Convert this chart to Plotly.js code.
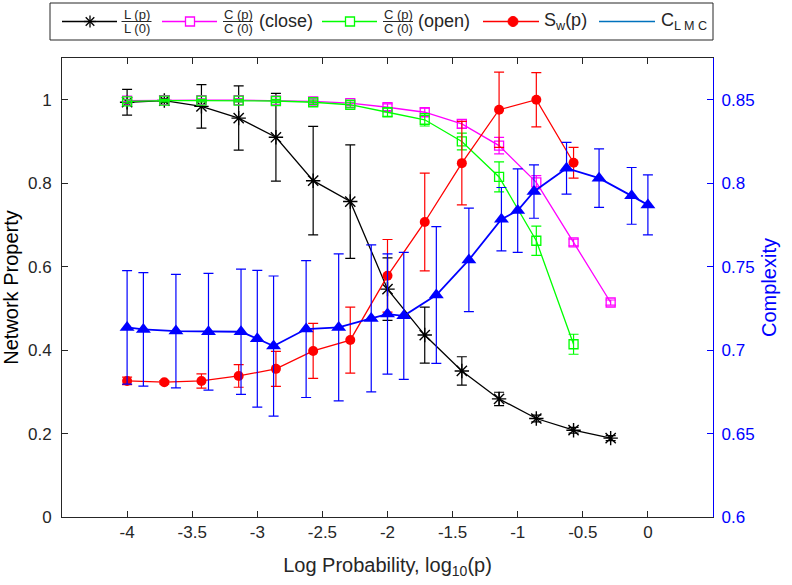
<!DOCTYPE html>
<html>
<head>
<meta charset="utf-8">
<script src="https://cdn.plot.ly/plotly-3.0.1.min.js"></script>
<style>html,body{margin:0;padding:0;background:#fff;}#chart{width:792px;height:585px;}</style>
</head>
<body>
<div id="chart"></div>
<script>
// ---- data ----
const logP = [-4, -3.714, -3.429, -3.143, -2.857, -2.571, -2.286, -2, -1.714, -1.429, -1.143, -0.857, -0.571, -0.286];
const pathLen = [0.994, 0.998, 0.984, 0.956, 0.910, 0.806, 0.756, 0.546, 0.436, 0.350, 0.283, 0.236, 0.208, 0.189];
const pathLenErr = [0.031, 0.004, 0.052, 0.077, 0.105, 0.130, 0.136, 0.075, 0.067, 0.034, 0.016, 0.008, 0.007, 0.006];
const clustClose = [0.998, 0.999, 0.999, 0.999, 0.998, 0.996, 0.992, 0.982, 0.970, 0.942, 0.890, 0.802, 0.658, 0.514];
const clustCloseErr = [0.003, 0.002, 0.003, 0.004, 0.010, 0.006, 0.006, 0.008, 0.010, 0.010, 0.020, 0.016, 0.008, 0.006];
const logPOpen = [-4, -3.714, -3.429, -3.143, -2.857, -2.571, -2.286, -2, -1.714, -1.429, -1.143, -0.857, -0.571];
const clustOpen = [0.996, 0.998, 0.998, 0.998, 0.997, 0.994, 0.988, 0.970, 0.952, 0.900, 0.815, 0.662, 0.414];
const clustOpenErr = [0.004, 0.003, 0.003, 0.003, 0.004, 0.005, 0.006, 0.010, 0.015, 0.020, 0.036, 0.035, 0.024];
const smallWorld = [0.326, 0.323, 0.326, 0.338, 0.355, 0.398, 0.424, 0.578, 0.707, 0.848, 0.976, 1.000, 0.849];
const smallWorldErr = [0.009, 0.004, 0.017, 0.027, 0.042, 0.066, 0.079, 0.087, 0.117, 0.100, 0.090, 0.065, 0.037];
const logPLmc = [-4, -3.875, -3.625, -3.375, -3.125, -3, -2.875, -2.625, -2.375, -2.125, -2, -1.875, -1.625, -1.375, -1.125, -1, -0.875, -0.625, -0.375, -0.125, 0];
const cLmc = [0.7136, 0.7124, 0.7114, 0.7110, 0.7110, 0.7068, 0.7024, 0.7126, 0.7136, 0.7190, 0.7216, 0.7205, 0.7330, 0.7540, 0.7784, 0.7836, 0.7950, 0.8090, 0.8030, 0.7924, 0.7870];
const cLmcErr = [0.034, 0.034, 0.034, 0.035, 0.0375, 0.041, 0.042, 0.041, 0.044, 0.044, 0.036, 0.038, 0.041, 0.031, 0.019, 0.025, 0.016, 0.0155, 0.0175, 0.017, 0.018];
const xTickVals = [-4, -3.5, -3, -2.5, -2, -1.5, -1, -0.5, 0];
const xTickText = ['-4', '-3.5', '-3', '-2.5', '-2', '-1.5', '-1', '-0.5', '0'];
const yTickVals = [0, 0.2, 0.4, 0.6, 0.8, 1];
const yTickText = ['0', '0.2', '0.4', '0.6', '0.8', '1'];
const y2TickVals = [0.6, 0.65, 0.7, 0.75, 0.8, 0.85];
const y2TickText = ['0.6', '0.65', '0.7', '0.75', '0.8', '0.85'];

// ---- layout geometry ----
const W = 792, H = 585, ML = 62, MR = 79, MT = 58, MB = 68;
const PW = W - ML - MR, PH = H - MT - MB;
const px = x => (x - ML) / PW;
const py = y => (H - MB - y) / PH;
const FONT = 'Liberation Sans, Arial, Helvetica, sans-serif';
const AX = '#262626';
const BLUE = '#0000ff';

function eb(arr, color) {
  return {type: 'data', array: arr, visible: true, color: color, thickness: 1.2, width: 5};
}

const traces = [
  {x: logP, y: pathLen, error_y: eb(pathLenErr, '#000'), mode: 'lines+markers', type: 'scatter',
   line: {color: '#000', width: 1.3}, marker: {symbol: 'asterisk-open', size: 12, color: '#000', line: {width: 1.4, color: '#000'}}, showlegend: false},
  {x: logP, y: clustClose, error_y: eb(clustCloseErr, '#ff00ff'), mode: 'lines+markers', type: 'scatter',
   line: {color: '#ff00ff', width: 1.3}, marker: {symbol: 'square-open', size: 9, color: '#ff00ff', line: {width: 1.3, color: '#ff00ff'}}, showlegend: false},
  {x: logPOpen, y: clustOpen, error_y: eb(clustOpenErr, '#00ff00'), mode: 'lines+markers', type: 'scatter',
   line: {color: '#00ff00', width: 1.3}, marker: {symbol: 'square-open', size: 9, color: '#00ff00', line: {width: 1.3, color: '#00ff00'}}, showlegend: false},
  {x: logPOpen, y: smallWorld, error_y: eb(smallWorldErr, '#ff0000'), mode: 'lines+markers', type: 'scatter',
   line: {color: '#ff0000', width: 1.3}, marker: {symbol: 'circle', size: 10, color: '#ff0000'}, showlegend: false},
  {x: logPLmc, y: cLmc, yaxis: 'y2', error_y: eb(cLmcErr, BLUE), mode: 'lines+markers', type: 'scatter',
   line: {color: BLUE, width: 1.8}, marker: {symbol: 'triangle-up', size: 13, color: BLUE}, showlegend: false}
];

// ---- manual legend (box, samples, fraction labels) ----
const LY = 21.5;
const shapes = [];
const annotations = [];
shapes.push({type: 'rect', xref: 'paper', yref: 'paper', x0: px(50), x1: px(713), y0: py(40), y1: py(3),
  line: {color: AX, width: 1}, fillcolor: '#fff', layer: 'above'});
function lseg(x0, x1, y0, y1, color, w) {
  shapes.push({type: 'line', xref: 'paper', yref: 'paper', x0: px(x0), x1: px(x1), y0: py(y0), y1: py(y1),
    line: {color: color, width: w || 1.3}, layer: 'above'});
}
// sample lines
lseg(62, 117, LY, LY, '#000');
lseg(162, 217, LY, LY, '#ff00ff');
lseg(322, 377, LY, LY, '#00ff00');
lseg(483, 539, LY, LY, '#ff0000');
lseg(599, 655, LY, LY, '#0072BD', 1.5);
// asterisk
const ar = 6, ad = 4.3;
lseg(90 - ar, 90 + ar, LY, LY, '#000');
lseg(90, 90, LY - ar, LY + ar, '#000');
lseg(90 - ad, 90 + ad, LY - ad, LY + ad, '#000');
lseg(90 - ad, 90 + ad, LY + ad, LY - ad, '#000');
// squares
[[190, '#ff00ff'], [350, '#00ff00']].forEach(([cx, c]) => {
  shapes.push({type: 'rect', xref: 'paper', yref: 'paper', x0: px(cx - 4.5), x1: px(cx + 4.5), y0: py(LY + 4.5), y1: py(LY - 4.5),
    line: {color: c, width: 1.3}, fillcolor: '#fff', layer: 'above'});
});
// circle
shapes.push({type: 'circle', xref: 'paper', yref: 'paper', x0: px(513 - 5), x1: px(513 + 5), y0: py(LY + 5), y1: py(LY - 5),
  line: {color: '#ff0000', width: 1}, fillcolor: '#ff0000', layer: 'above'});
// fractions
function frac(cx, num, den) {
  lseg(cx - 15, cx + 15, LY, LY, AX, 1);
  annotations.push({xref: 'paper', yref: 'paper', x: px(cx), y: py(14.2), text: num, showarrow: false,
    xanchor: 'center', yanchor: 'middle', font: {family: FONT, size: 13, color: AX}, borderpad: 0});
  annotations.push({xref: 'paper', yref: 'paper', x: px(cx), y: py(28.8), text: den, showarrow: false,
    xanchor: 'center', yanchor: 'middle', font: {family: FONT, size: 13, color: AX}, borderpad: 0});
}
frac(136.5, 'L (p)', 'L (0)');
frac(238, 'C (p)', 'C (0)');
frac(398, 'C (p)', 'C (0)');
function ltext(x, t) {
  annotations.push({xref: 'paper', yref: 'paper', x: px(x), y: py(LY), text: t, showarrow: false,
    xanchor: 'left', yanchor: 'middle', font: {family: FONT, size: 18, color: AX}, borderpad: 0});
}
ltext(258, '(close)');
ltext(417, '(open)');
ltext(543, 'S<sub>w</sub>(p)');
ltext(660, 'C<sub>L M C</sub>');

const layout = {
  width: W, height: H,
  margin: {l: ML, r: MR, t: MT, b: MB, pad: 0},
  paper_bgcolor: '#fff', plot_bgcolor: '#fff',
  font: {family: FONT, size: 17, color: AX},
  showlegend: false,
  xaxis: {
    range: [-4.5, 0.5], tickmode: 'array', tickvals: xTickVals, ticktext: xTickText,
    ticks: 'inside', ticklen: 6, tickcolor: AX, showline: true, linecolor: AX, linewidth: 1,
    mirror: 'ticks', showgrid: false, zeroline: false, tickfont: {size: 17, color: AX},
    title: {text: 'Log Probability, log<sub>10</sub>(p)', font: {size: 20, color: AX}, standoff: 16},
    automargin: false
  },
  yaxis: {
    range: [0, 1.1], tickmode: 'array', tickvals: yTickVals, ticktext: yTickText,
    ticks: 'inside', ticklen: 6, tickcolor: AX, showline: true, linecolor: AX, linewidth: 1,
    showgrid: false, zeroline: false, tickfont: {size: 17, color: AX}, ticklabelstandoff: 6,
    title: {text: 'Network Property', font: {size: 20, color: '#000'}, standoff: 3},
    automargin: false
  },
  yaxis2: {
    overlaying: 'y', side: 'right', range: [0.6, 0.875], tickmode: 'array', tickvals: y2TickVals, ticktext: y2TickText,
    ticks: 'inside', ticklen: 6, tickcolor: BLUE, showline: true, linecolor: BLUE, linewidth: 1.2,
    showgrid: false, zeroline: false, tickfont: {size: 17, color: BLUE}, ticklabelstandoff: 4,
    title: {text: 'Complexity', font: {size: 20, color: BLUE}, standoff: 8},
    automargin: false
  },
  shapes: shapes,
  annotations: annotations
};

Plotly.newPlot('chart', traces, layout, {displayModeBar: false, staticPlot: true});
</script>
</body>
</html>
